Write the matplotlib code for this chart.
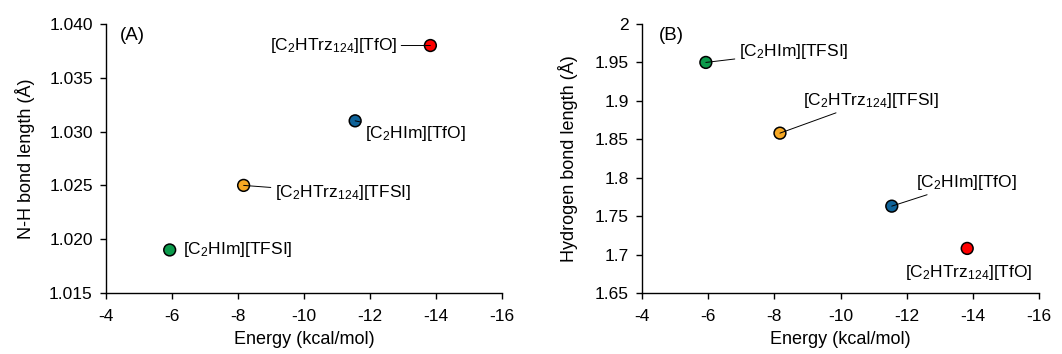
import matplotlib
matplotlib.use('Agg')
import matplotlib.pyplot as plt

plt.rcParams['font.family'] = ['Liberation Sans', 'DejaVu Sans']
plt.rcParams['mathtext.fontset'] = 'custom'
plt.rcParams['mathtext.rm'] = 'Liberation Sans'
plt.rcParams['mathtext.default'] = 'regular'
plt.rcParams['axes.unicode_minus'] = False
plt.rcParams['font.size'] = 12.5

# Data
names = ['[C$_2$HIm][TFSI]', '[C$_2$HTrz$_{124}$][TFSI]',
         '[C$_2$HIm][TfO]', '[C$_2$HTrz$_{124}$][TfO]']
colors = ['#0b9a4b', '#f7a823', '#0f6399', '#ff0000']
energy = [-5.93, -8.17, -11.55, -13.83]
nh_length = [1.019, 1.025, 1.031, 1.038]
hb_length = [1.950, 1.858, 1.763, 1.708]

# label positions (data coords) and alignment for each panel
label_a = [(-6.33, 1.019, 'left', False), (-9.12, 1.0243, 'left', True),
           (-11.85, 1.0298, 'left', True), (-12.82, 1.038, 'right', True)]
label_b = [(-6.93, 1.9636, 'left', True), (-8.87, 1.901, 'left', True),
           (-12.28, 1.7944, 'left', True), (-13.89, 1.677, 'center', False)]

fig = plt.figure(figsize=(10.62, 3.54), dpi=100)
ax1 = fig.add_axes([106/1062, 1 - 293/354, 396/1062, 269/354])
ax2 = fig.add_axes([642/1062, 1 - 293/354, 397/1062, 269/354])


def style(ax):
    ax.spines['top'].set_visible(False)
    ax.spines['right'].set_visible(False)
    ax.spines['left'].set_linewidth(1.0)
    ax.spines['bottom'].set_linewidth(1.0)
    ax.set_xlim(-4, -16)
    ax.set_xticks(range(-4, -17, -2))
    ax.tick_params(direction='out', length=4, width=1.0, labelsize=12.5)
    ax.tick_params(axis='x', pad=7.5)
    ax.tick_params(axis='y', pad=5.5)
    ax.set_xlabel('Energy (kcal/mol)', fontsize=13, labelpad=5)


def draw(ax, ys, labels):
    ax.scatter(energy, ys, s=72, c=colors, edgecolors='black',
               linewidths=1.1, zorder=3)
    for x, y, name, (tx, ty, ha, line) in zip(energy, ys, names, labels):
        if line:
            ax.annotate(name, xy=(x, y), xytext=(tx, ty), ha=ha, va='center',
                        fontsize=12.5,
                        arrowprops=dict(arrowstyle='-', color='black', lw=0.7,
                                        shrinkA=1, shrinkB=0))
        else:
            ax.text(tx, ty, name, ha=ha, va='center', fontsize=12.5)


style(ax1)
ax1.set_ylim(1.015, 1.040)
ax1.set_yticks([1.015, 1.020, 1.025, 1.030, 1.035, 1.040])
ax1.set_yticklabels(['%.3f' % v for v in ax1.get_yticks()])
ax1.set_ylabel('N-H bond length (Å)', fontsize=13, labelpad=10)
draw(ax1, nh_length, label_a)
ax1.text(0.035, 0.99, '(A)', transform=ax1.transAxes, ha='left', va='top',
         fontsize=13.5)

style(ax2)
ax2.set_ylim(1.65, 2.0)
ax2.set_yticks([1.65, 1.7, 1.75, 1.8, 1.85, 1.9, 1.95, 2.0])
ax2.set_yticklabels(['1.65', '1.7', '1.75', '1.8', '1.85', '1.9', '1.95', '2'])
ax2.set_ylabel('Hydrogen bond length (Å)', fontsize=13, labelpad=12)
draw(ax2, hb_length, label_b)
ax2.text(0.043, 0.99, '(B)', transform=ax2.transAxes, ha='left', va='top',
         fontsize=13.5)

fig.savefig('out.png', dpi=100)
